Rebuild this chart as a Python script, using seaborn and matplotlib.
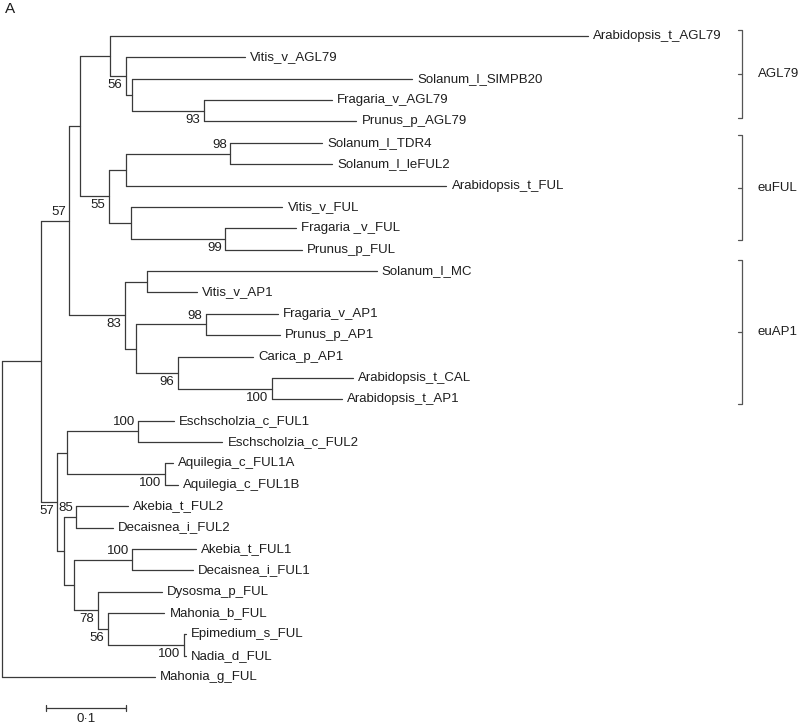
import matplotlib
matplotlib.use("Agg")
import matplotlib.pyplot as plt
import pandas as pd
import seaborn as sns

sns.set_theme(style="white")
plt.rcParams['font.family'] = ['Liberation Sans', 'DejaVu Sans']

# ---------------- data: tree in preorder (node, parent, branch length) ----------------
node_names = [
    "root", "n_all", "n_core", "n_agl_ful", "n_agl79",
    "Arabidopsis_t_AGL79", "n_agl_a", "Vitis_v_AGL79", "n_agl_b",
    "Solanum_l_SlMPB20", "n_agl_c", "Fragaria_v_AGL79", "Prunus_p_AGL79",
    "n_euful", "n_ful_a", "n_ful_sol", "Solanum_l_TDR4", "Solanum_l_leFUL2",
    "Arabidopsis_t_FUL", "n_ful_b", "Vitis_v_FUL", "n_ful_ros",
    "Fragaria _v_FUL", "Prunus_p_FUL",
    "n_euap1", "n_ap1_a", "Solanum_l_MC", "Vitis_v_AP1", "n_ap1_b",
    "n_ap1_ros", "Fragaria_v_AP1", "Prunus_p_AP1", "n_ap1_c", "Carica_p_AP1",
    "n_ap1_ath", "Arabidopsis_t_CAL", "Arabidopsis_t_AP1",
    "n_basal", "n_bas_a", "n_esch", "Eschscholzia_c_FUL1", "Eschscholzia_c_FUL2",
    "n_aqui", "Aquilegia_c_FUL1A", "Aquilegia_c_FUL1B",
    "n_bas_b", "n_lard2", "Akebia_t_FUL2", "Decaisnea_i_FUL2",
    "n_bas_c", "n_lard1", "Akebia_t_FUL1", "Decaisnea_i_FUL1",
    "n_berb", "Dysosma_p_FUL", "n_berb_b", "Mahonia_b_FUL",
    "n_berb_c", "Epimedium_s_FUL", "Nadia_d_FUL",
    "Mahonia_g_FUL",
]
node_parents = [
    None, "root", "n_all", "n_core", "n_agl_ful",
    "n_agl79", "n_agl79", "n_agl_a", "n_agl_a",
    "n_agl_b", "n_agl_b", "n_agl_c", "n_agl_c",
    "n_agl_ful", "n_euful", "n_ful_a", "n_ful_sol", "n_ful_sol",
    "n_ful_a", "n_euful", "n_ful_b", "n_ful_b",
    "n_ful_ros", "n_ful_ros",
    "n_core", "n_euap1", "n_ap1_a", "n_ap1_a", "n_euap1",
    "n_ap1_b", "n_ap1_ros", "n_ap1_ros", "n_ap1_b", "n_ap1_c",
    "n_ap1_c", "n_ap1_ath", "n_ap1_ath",
    "n_all", "n_basal", "n_bas_a", "n_esch", "n_esch",
    "n_bas_a", "n_aqui", "n_aqui",
    "n_basal", "n_bas_b", "n_lard2", "n_lard2",
    "n_bas_b", "n_bas_c", "n_lard1", "n_lard1",
    "n_bas_c", "n_berb", "n_berb", "n_berb_b",
    "n_berb_b", "n_berb_c", "n_berb_c",
    "root",
]
branch_lengths = [
    0.0, 0.049, 0.035, 0.013, 0.0375,
    0.598, 0.020, 0.149, 0.0075,
    0.351, 0.090, 0.160, 0.191,
    0.0366, 0.021, 0.131, 0.115, 0.1275,
    0.401, 0.028, 0.189, 0.1175,
    0.089, 0.096,
    0.0696, 0.0275, 0.2875, 0.0625, 0.014,
    0.0875, 0.090, 0.0925, 0.0525, 0.094,
    0.1175, 0.101, 0.0875,
    0.020, 0.0125, 0.089, 0.044, 0.105,
    0.1225, 0.010, 0.016,
    0.009, 0.015, 0.064, 0.046,
    0.0125, 0.0725, 0.079, 0.076,
    0.029, 0.080, 0.0125, 0.071,
    0.095, 0.0025, 0.0025,
    0.191,
]
bootstrap_nodes = ["n_core", "n_agl_a", "n_agl_c", "n_ful_sol", "n_euful", "n_ful_ros",
                   "n_euap1", "n_ap1_ros", "n_ap1_c", "n_ap1_ath", "n_esch", "n_aqui",
                   "n_basal", "n_lard2", "n_lard1", "n_berb", "n_berb_b", "n_berb_c"]
bootstrap_values = [57, 56, 93, 98, 55, 99, 83, 98, 96, 100, 100, 100, 57, 85, 100, 78, 56, 100]

clade_names = ["AGL79", "euFUL", "euAP1"]
clade_first = ["Arabidopsis_t_AGL79", "Solanum_l_TDR4", "Solanum_l_MC"]
clade_last = ["Prunus_p_AGL79", "Prunus_p_FUL", "Arabidopsis_t_AP1"]

scale_length = 0.1
scale_label = "0\u00b71"

# ---------------- layout ----------------
children = {n: [] for n in node_names}
for n, p in zip(node_names, node_parents):
    if p is not None:
        children[p].append(n)
xpos = {}
for n, p, bl in zip(node_names, node_parents, branch_lengths):
    xpos[n] = 0.0 if p is None else xpos[p] + bl
leaves = [n for n in node_names if not children[n]]
ypos = {n: float(i) for i, n in enumerate(leaves)}
for n in reversed(node_names):
    if children[n]:
        ypos[n] = (ypos[children[n][0]] + ypos[children[n][-1]]) / 2.0

# pixel helpers (figure 800 x 726 px)
PX = 1 / 800.0          # branch-length units per pixel
ROW = 21.37             # pixels per leaf row
PY = 1 / ROW
Y0 = 36.0               # pixel y of first leaf

rows = []
seg = 0
for n, p in zip(node_names, node_parents):
    if p is not None:
        rows += [dict(seg=seg, x=xpos[p], y=ypos[n]), dict(seg=seg, x=xpos[n], y=ypos[n])]
        seg += 1
    if children[n]:
        c0, c1 = children[n][0], children[n][-1]
        rows += [dict(seg=seg, x=xpos[n], y=ypos[c0]), dict(seg=seg, x=xpos[n], y=ypos[c1])]
        seg += 1
edges = pd.DataFrame(rows)

fig = plt.figure(figsize=(8, 7.26), dpi=100)
ax = fig.add_axes([0, 0, 1, 1])
line_col = "#3a3a3a"
text_col = "#1e1e1e"

sns.lineplot(data=edges, x="x", y="y", units="seg", estimator=None, sort=False,
             color=line_col, linewidth=0.9, ax=ax, legend=False)

fs = 9.5
for n in leaves:
    ax.text(xpos[n] + 5 * PX, ypos[n], n, ha="left", va="center",
            fontsize=fs, color=text_col)

for n, v in zip(bootstrap_nodes, bootstrap_values):
    p = node_parents[node_names.index(n)]
    above = children[p][0] == n
    dy = -0.42 if above else 0.42
    ax.text(xpos[n] - 3.5 * PX, ypos[n] + dy, str(v), ha="right", va="center",
            fontsize=fs, color=text_col)

# clade brackets
bx = 742 * PX - 2 * PX
offs_top = [-0.28, -0.37, -0.52]
offs_bot = [-0.16, -0.45, 0.22]
br_col = "#555555"
for name, f, l, ot, ob in zip(clade_names, clade_first, clade_last, offs_top, offs_bot):
    y1 = ypos[f] + ot
    y2 = ypos[l] + ob
    ym = (y1 + y2) / 2
    ax.plot([bx - 4 * PX, bx, bx, bx - 4 * PX], [y1, y1, y2, y2], color=br_col, lw=0.9)
    ax.plot([bx - 4 * PX, bx], [ym, ym], color=br_col, lw=0.9)
    ax.text(bx + 16 * PX, ym, name, ha="left", va="center", fontsize=fs, color=text_col)

# scale bar
sy = (708 - Y0) * PY
sx0 = (45.7 - 2) * PX
ax.plot([sx0, sx0 + scale_length], [sy, sy], color=line_col, lw=0.9)
for xx in (sx0, sx0 + scale_length):
    ax.plot([xx, xx], [sy - 2.7 * PY, sy + 2.7 * PY], color=line_col, lw=0.9)
ax.text(sx0 + scale_length / 2, sy + 10.5 * PY, scale_label, ha="center", va="center",
        fontsize=fs, color=text_col)

# panel letter
ax.text(3 * PX, (9 - Y0) * PY, "A", ha="left", va="center", fontsize=11, color=text_col)

ax.set_xlim(-2 * PX, 798 * PX)
ax.set_ylim((726 - Y0) * PY, -Y0 * PY)
ax.axis("off")

fig.savefig("out.png", dpi=100)
